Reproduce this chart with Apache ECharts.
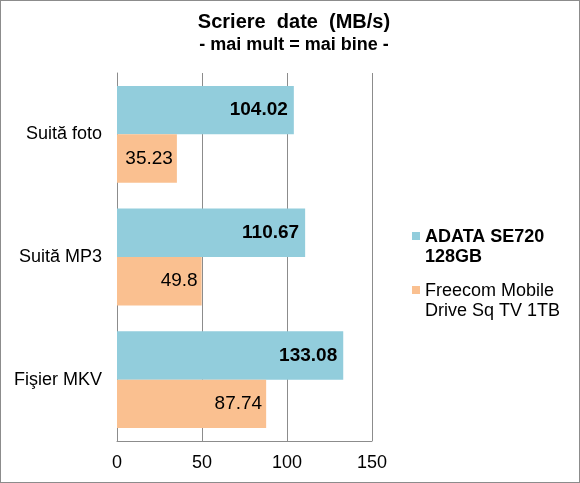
<!DOCTYPE html>
<html>
<head>
<meta charset="utf-8">
<script src="https://cdn.jsdelivr.net/npm/echarts@6/dist/echarts.min.js"></script>
<style>
  html, body { margin: 0; padding: 0; background: #fff; }
  #chart { width: 578px; height: 481px; border: 1px solid #8c8c8c; }
</style>
</head>
<body>
<div id="chart"></div>
<script>
// date
var categorii = ['Suită foto', 'Suită MP3', 'Fişier MKV'];
var adata = [104.02, 110.67, 133.08];
var freecom = [35.23, 49.8, 87.74];
var numeSerii = ['ADATA SE720 128GB', 'Freecom Mobile Drive Sq TV 1TB'];
var etichetaLegenda = {
    'ADATA SE720 128GB': '{b|ADATA SE720}\n{b|128GB}',
    'Freecom Mobile Drive Sq TV 1TB': '{n|Freecom Mobile}\n{n|Drive Sq TV 1TB}'
};

var myChart = echarts.init(document.getElementById('chart'));
var font = 'Liberation Sans, Arial, sans-serif';

// patratel sus, cu un punct invizibil jos ca sa stea in dreptul primului rand
var iconLegenda = 'path://M0,0L8,0L8,8L0,8Z M0,30L0.01,30L0.01,30.01Z';

option = {
    textStyle: { fontFamily: font },
    title: {
        text: 'Scriere  date  (MB/s)',
        subtext: '- mai mult = mai bine -',
        left: 288,
        textAlign: 'center',
        top: 6,
        itemGap: 4,
        textStyle: { fontSize: 20, fontWeight: 'bold', color: '#000', fontFamily: font },
        subtextStyle: { fontSize: 18, fontWeight: 'bold', color: '#000', fontFamily: font }
    },
    legend: {
        orient: 'vertical',
        left: 406,
        top: 222,
        itemWidth: 8,
        itemHeight: 30,
        itemGap: 16,
        icon: iconLegenda,
        data: numeSerii,
        formatter: function (name) { return etichetaLegenda[name]; },
        textStyle: {
            padding: [0, 0, 0, 0],
            rich: {
                b: { fontSize: 18, fontWeight: 'bold', color: '#000', fontFamily: font, lineHeight: 20 },
                n: { fontSize: 18, color: '#000', fontFamily: font, lineHeight: 20 }
            }
        }
    },
    grid: {
        left: 116,
        right: 207,
        top: 72,
        bottom: 41,
        containLabel: false
    },
    xAxis: {
        type: 'value',
        min: 0,
        max: 150,
        interval: 50,
        axisLine: { show: true, onZero: false, lineStyle: { color: '#8c8c8c' } },
        axisTick: { show: false },
        axisLabel: { fontSize: 18, color: '#000', margin: 13, fontFamily: font },
        splitLine: { lineStyle: { color: '#8c8c8c', width: 1 } }
    },
    yAxis: {
        type: 'category',
        inverse: true,
        data: categorii,
        axisLine: { show: true, lineStyle: { color: '#8c8c8c' } },
        axisTick: { show: false },
        axisLabel: { fontSize: 18, color: '#000', margin: 15, fontFamily: font }
    },
    series: [{
        name: numeSerii[0],
        type: 'bar',
        barGap: '0%',
        barCategoryGap: '21%',
        itemStyle: { color: '#92cddc' },
        label: {
            show: true,
            position: 'insideRight',
            distance: 6,
            fontSize: 19,
            fontWeight: 'bold',
            color: '#000',
            fontFamily: font
        },
        data: adata
    }, {
        name: numeSerii[1],
        type: 'bar',
        itemStyle: { color: '#fac090' },
        label: {
            show: true,
            position: 'insideRight',
            distance: 4,
            fontSize: 19,
            color: '#000',
            fontFamily: font
        },
        data: freecom
    }]
};
myChart.setOption(option);
</script>
</body>
</html>
